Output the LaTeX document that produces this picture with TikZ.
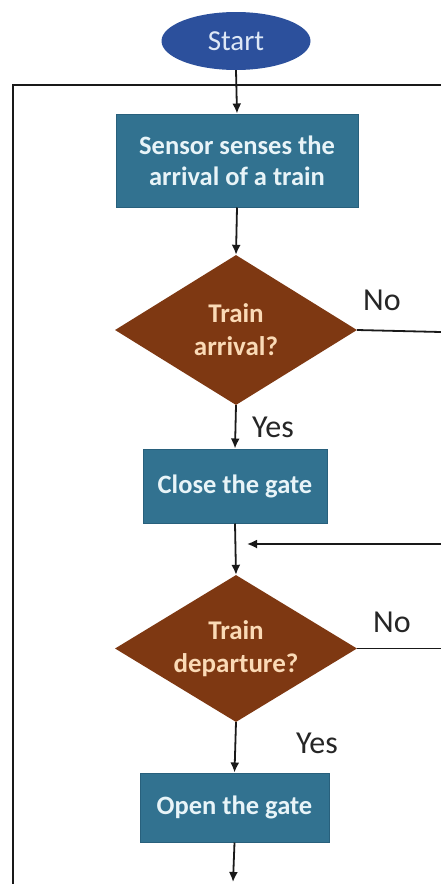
\documentclass[tikz,border=0pt]{standalone}
\usepackage{fontspec}
\setmainfont{Carlito}
\usetikzlibrary{shapes.geometric,arrows.meta}
\definecolor{boxblue}{RGB}{50,114,144}
\definecolor{boxedge}{RGB}{40,96,124}
\definecolor{startblue}{RGB}{44,80,156}
\definecolor{diabrown}{RGB}{126,56,18}
\definecolor{boxtext}{RGB}{232,244,248}
\definecolor{diatext}{RGB}{250,218,182}
\definecolor{starttext}{RGB}{222,232,246}
\tikzset{
  conn/.style={line width=1.8pt, black!90},
  arr/.style={conn, -{Latex[length=10pt,width=9pt]}},
  procbox/.style={rectangle, fill=boxblue, draw=boxedge, line width=1pt, inner sep=0pt,
    text=boxtext, font=\fontsize{26.5}{31}\selectfont\bfseries, align=center},
  decis/.style={diamond, fill=diabrown, inner sep=0pt, minimum width=242pt},
  dtext/.style={text=diatext, font=\fontsize{27}{33}\selectfont\bfseries, align=center, inner sep=0pt},
  termin/.style={ellipse, fill=startblue, inner sep=0pt, minimum width=149pt, minimum height=58pt,
    text=starttext, font=\fontsize{29}{34}\selectfont},
  lbl/.style={font=\fontsize{32}{36}\selectfont, text=black!85, inner sep=0pt}
}
\begin{document}
\begin{tikzpicture}[x=1pt,y=-1pt]
\useasboundingbox[fill=white] (0,0) rectangle (441,884);
% nodes
\node[termin] (start) at (236,41) {Start};
\node[procbox, minimum width=242pt, minimum height=93pt] (s1) at (237,160.5) {Sensor senses the\\arrival of a train};
\node[decis, minimum height=150pt] (d1) at (236,330) {};
\node[dtext] (t1) at (d1.center) {Train\\arrival?};
\node[procbox, minimum width=184pt, minimum height=74pt] (s2) at (235,486) {Close the gate};
\node[decis, minimum height=147pt] (d2) at (236,648.5) {};
\node[dtext] (t2) at (d2.center) {Train\\departure?};
\node[procbox, minimum width=189pt, minimum height=69pt] (s3) at (234.5,807.5) {Open the gate};
% labels
\node[lbl] (no1) at (382,300) {No};
\node[lbl] (yes1) at (273,427) {Yes};
\node[lbl] (no2) at (392,622) {No};
\node[lbl] (yes2) at (317,743) {Yes};
% coordinates
\coordinate (loopR) at (441,85);
\coordinate (loopL) at (13,884);
\coordinate (no1end) at (441,332);
\coordinate (retR) at (441,544);
\coordinate (retL) at (247,544);
\coordinate (no2end) at (441,648.5);
\coordinate (endp) at (233,882);
% connectors
\draw[conn] (loopR) -| (loopL);
\draw[arr] (start.south) -- (s1.north);
\draw[arr] (s1.south) -- (d1.north);
\draw[arr] (d1.south) -- (s2.north);
\draw[conn] (d1.east) -- (no1end);
\draw[arr] (s2.south) -- (d2.north);
\draw[arr] (retR) -- (retL);
\draw[conn] (d2.east) -- (no2end);
\draw[arr] (d2.south) -- (s3.north);
\draw[arr] (s3.south) -- (endp);
\end{tikzpicture}
\end{document}
